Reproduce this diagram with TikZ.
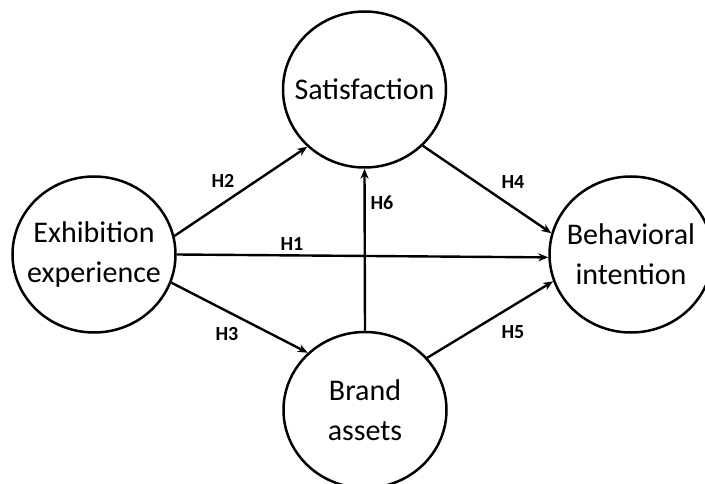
\documentclass[tikz,border=0pt]{standalone}
\usepackage{fontspec}
\setmainfont{Carlito}
\usetikzlibrary{shapes.geometric,arrows.meta}
\begin{document}
\begin{tikzpicture}[x=1pt,y=1pt,
    construct/.style={draw, ellipse, line width=2.5pt, minimum width=163pt,
      minimum height=156pt, inner sep=0pt,
      label={[align=center, font=\fontsize{30}{40}\selectfont]center:#1}},
    path/.style={line width=2.4pt, -{Stealth[length=10pt,width=8pt]}},
    hyp/.style={font=\fontsize{20}{22}\selectfont\bfseries, inner sep=0pt}]
  \useasboundingbox (0,0) rectangle (705,483);

  % latent constructs
  \node[construct={Exhibition\\experience}] (exh) at (94,228.5) {};
  \node[construct={Satisfaction}] (sat) at (364.5,393.5) {};
  \node[construct={Behavioral\\intention}] (beh) at (631,228.5) {};
  \node[construct={Brand\\assets}] (brand) at (365,73) {};

  % hypothesised paths
  \draw[path] (exh.13)  -- (sat.225);
  \draw[path] (exh.0)   -- (beh.182);
  \draw[path] (exh.-20) -- (brand.135.5);
  \draw[path] (sat.316.5) -- (beh.165);
  \draw[path] (brand.40) -- (beh.199);
  \draw[path] (brand.90) -- (sat.270);

  % hypothesis labels
  \node[hyp] (h1) at (292,239) {H1};
  \node[hyp] (h2) at (223,302) {H2};
  \node[hyp] (h3) at (227,149) {H3};
  \node[hyp] (h4) at (513,301) {H4};
  \node[hyp] (h5) at (513,151) {H5};
  \node[hyp] (h6) at (382,280) {H6};
\end{tikzpicture}
\end{document}
